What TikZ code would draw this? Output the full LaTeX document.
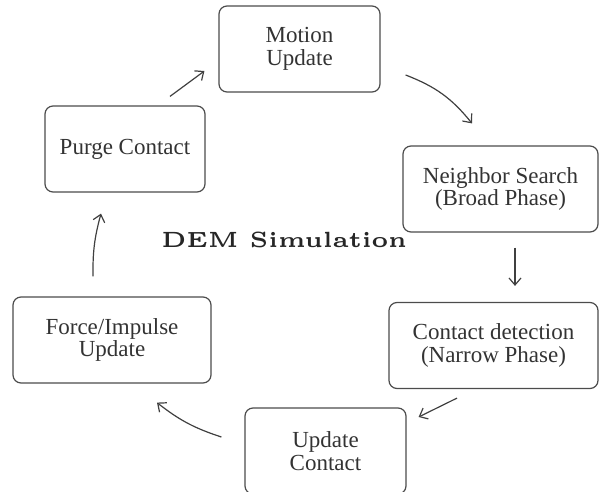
\documentclass[tikz,border=0pt]{standalone}
\usepackage{fontspec}
\setmainfont{Liberation Serif}
\newfontfamily\demfont{lmroman5-bold.otf}
\usetikzlibrary{arrows.meta}

\newcommand{\boxfont}{\fontsize{11.5}{11.2}\selectfont}

\begin{document}
\begin{tikzpicture}[x=0.5pt, y=-0.5pt,
    every node/.style={rounded corners=4pt, align=center},
    box/.style={draw=black!70, line width=0.6pt, text=black!80, font=\boxfont, minimum height=43pt},
    flow/.style={-{Straight Barb[length=3.5pt, width=6pt]}, draw=black!75, line width=0.6pt}]
  \useasboundingbox (0, 0) rectangle (599, 492);

  \node[box, minimum width=80.5pt]
    (motion) at (299.5, 49)
    {Motion\\
    Update};

  \node[box, minimum width=97.5pt]
    (neigh) at (500.5, 189)
    {Neighbor Search\\
    (Broad Phase)};

  \node[box, minimum width=104.5pt]
    (contact) at (493.5, 345.5)
    {Contact detection\\
    (Narrow Phase)};

  \node[box, minimum width=80.5pt]
    (update) at (325.5, 451)
    {Update\\
    Contact};

  \node[box, minimum width=99pt]
    (force) at (112, 340)
    {Force/Impulse\\
    Update};

  \node[box, minimum width=80pt]
    (purge) at (125, 149)
    {Purge Contact};

  \node[font=\demfont\fontsize{11}{13}\selectfont, text=black!85]
    (dem) at (284, 240)
    {DEM Simulation};

  \draw[flow] ([shift={(45,-9)}]purge.north) -- ([shift={(-14,22)}]motion.west);
  \draw[flow] ([shift={(25,26)}]motion.east) to[bend left=15] ([shift={(-28.5,-22)}]neigh.north);
  \draw[flow] ([shift={(14.5,15)}]neigh.south) -- ([shift={(21.5,-16)}]contact.north);
  \draw[flow] ([shift={(-36.5,9)}]contact.south) -- ([shift={(12,-34)}]update.east);
  \draw[flow] ([shift={(-23,-14)}]update.west) to[bend left=10] ([shift={(45,19)}]force.south);
  \draw[flow] ([shift={(-19,-20)}]force.north) to[bend left=8] ([shift={(-24,21)}]purge.south);

\end{tikzpicture}
\end{document}
